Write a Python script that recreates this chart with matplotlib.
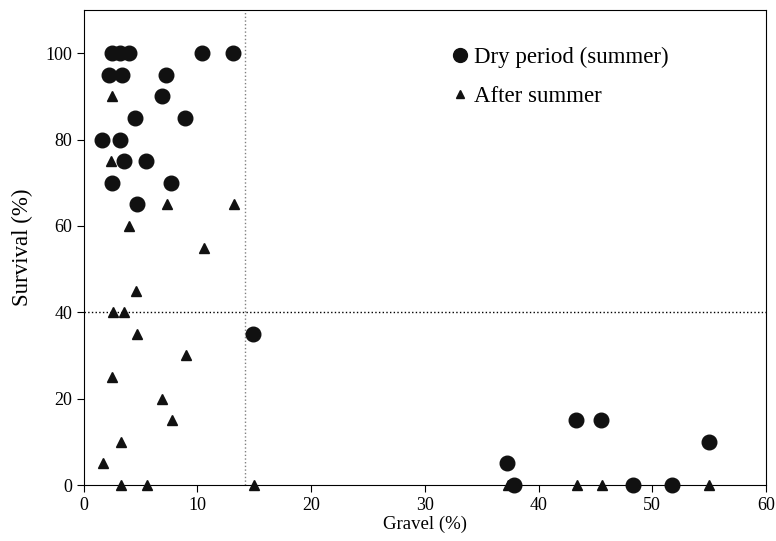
import matplotlib.pyplot as plt

plt.rcParams["font.family"] = "Liberation Serif"

# Dry period (summer)
dry_gravel = [2.5, 3.2, 4.0, 10.4, 13.1, 2.2, 3.4, 7.2, 6.9, 4.5, 8.9, 1.6, 3.2,
              3.5, 5.5, 2.5, 7.7, 4.7, 14.9, 37.2, 37.8, 48.3, 51.7, 43.3, 45.5, 55.0]
dry_survival = [100, 100, 100, 100, 100, 95, 95, 95, 90, 85, 85, 80, 80,
                75, 75, 70, 70, 65, 35, 5, 0, 0, 0, 15, 15, 10]

# After summer
after_gravel = [2.5, 2.4, 7.3, 13.2, 4.0, 10.6, 4.6, 2.6, 3.5, 4.7, 9.0, 2.5,
                6.9, 7.8, 3.3, 1.7, 3.3, 5.6, 15.0, 37.3, 43.4, 45.6, 55.0]
after_survival = [90, 75, 65, 65, 60, 55, 45, 40, 40, 35, 30, 25,
                  20, 15, 10, 5, 0, 0, 0, 0, 0, 0, 0]

gravel_threshold = 14.2
survival_threshold = 40

fig = plt.figure(figsize=(7.76, 5.41), dpi=100)
ax = fig.add_axes([0.108, 0.1035, 0.879, 0.878])

ax.axvline(gravel_threshold, color="gray", linestyle=":", linewidth=1)
ax.axhline(survival_threshold, color="black", linestyle=":", linewidth=1)

ax.plot(after_gravel, after_survival, "^", color="#111111", markersize=6.5,
        label="After summer", clip_on=False, zorder=3)
ax.plot(dry_gravel, dry_survival, "o", color="#111111", markersize=10.5,
        label="Dry period (summer)", clip_on=False, zorder=4)

ax.set_xlim(0, 60)
ax.set_ylim(0, 110)
ax.set_xticks(range(0, 61, 10))
ax.set_yticks(range(0, 101, 20))
ax.tick_params(direction="out", labelsize=13, length=5)
ax.set_xlabel("Gravel (%)", fontsize=13.5, labelpad=1)
ax.set_ylabel("Survival (%)", fontsize=16.5, labelpad=9)

handles, labels = ax.get_legend_handles_labels()
ax.legend(handles[::-1], labels[::-1], loc="upper left", bbox_to_anchor=(0.508, 0.966),
          frameon=False, fontsize=16.5, handletextpad=0.2, labelspacing=0.8,
          handlelength=0.8, markerscale=0.95)

fig.savefig("out.png", dpi=100)
